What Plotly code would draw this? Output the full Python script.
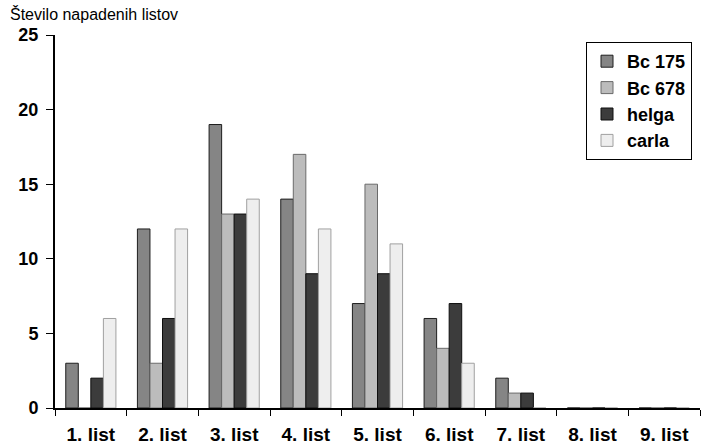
import plotly.graph_objects as go

categories = ["1. list", "2. list", "3. list", "4. list", "5. list", "6. list", "7. list", "8. list", "9. list"]
bc175 = [3, 12, 19, 14, 7, 6, 2, 0, 0]
bc678 = [0, 3, 13, 17, 15, 4, 1, 0, 0]
helga = [2, 6, 13, 9, 9, 7, 1, 0, 0]
carla = [6, 12, 14, 12, 11, 3, 0, 0, 0]
series_names = ["Bc 175", "Bc 678", "helga", "carla"]
y_ticks = [0, 5, 10, 15, 20, 25]

FONT = "Liberation Sans, Arial, sans-serif"
fills = ["#858585", "#bcbcbc", "#3c3c3c", "#eeeeee"]
lines = ["#1e1e1e", "#6a6a6a", "#0e0e0e", "#a0a0a0"]

L, R, T, B = 55, 2, 35, 40
PW = 702 - L - R
PH = 448 - T - B

fig = go.Figure()
for name, vals, fc, lc in zip(series_names, [bc175, bc678, helga, carla], fills, lines):
    fig.add_trace(go.Bar(
        x=categories, y=vals, name=name,
        marker=dict(color=fc, line=dict(color=lc, width=1)),
    ))

fig.update_layout(
    width=702, height=448,
    margin=dict(l=L, r=R, t=T, b=B),
    paper_bgcolor="white", plot_bgcolor="white",
    barmode="group", bargap=0.3, bargroupgap=0,
    font=dict(family=FONT, size=18, color="black"),
    showlegend=True,
    legend=dict(
        x=(692 - L) / PW, xanchor="right", y=(408 - 42) / PH, yanchor="top",
        bordercolor="black", borderwidth=1, bgcolor="white",
        font=dict(family=FONT, size=18, color="black", weight="bold"),
        itemwidth=30, tracegroupgap=0,
    ),
    xaxis=dict(
        showline=True, linecolor="black", linewidth=2,
        ticks="outside", tickson="boundaries", ticklen=6, tickcolor="black",
        tickfont=dict(family=FONT, size=19, weight="bold"),
        ticklabelstandoff=8,
        showgrid=False, zeroline=False,
    ),
    yaxis=dict(
        range=[0, 25], tickvals=y_ticks,
        showline=True, linecolor="black", linewidth=2,
        ticks="outside", ticklen=7, tickcolor="black",
        tickfont=dict(family=FONT, size=18, weight="bold"),
        ticklabelstandoff=4,
        showgrid=False, zeroline=False,
    ),
    annotations=[dict(
        text="Število napadenih listov", xref="paper", yref="paper",
        x=(8 - L) / PW, y=(408 - 14) / PH, xanchor="left", yanchor="middle", showarrow=False,
        font=dict(family=FONT, size=16, color="black"),
    )],
)

fig.write_html("out.html")
